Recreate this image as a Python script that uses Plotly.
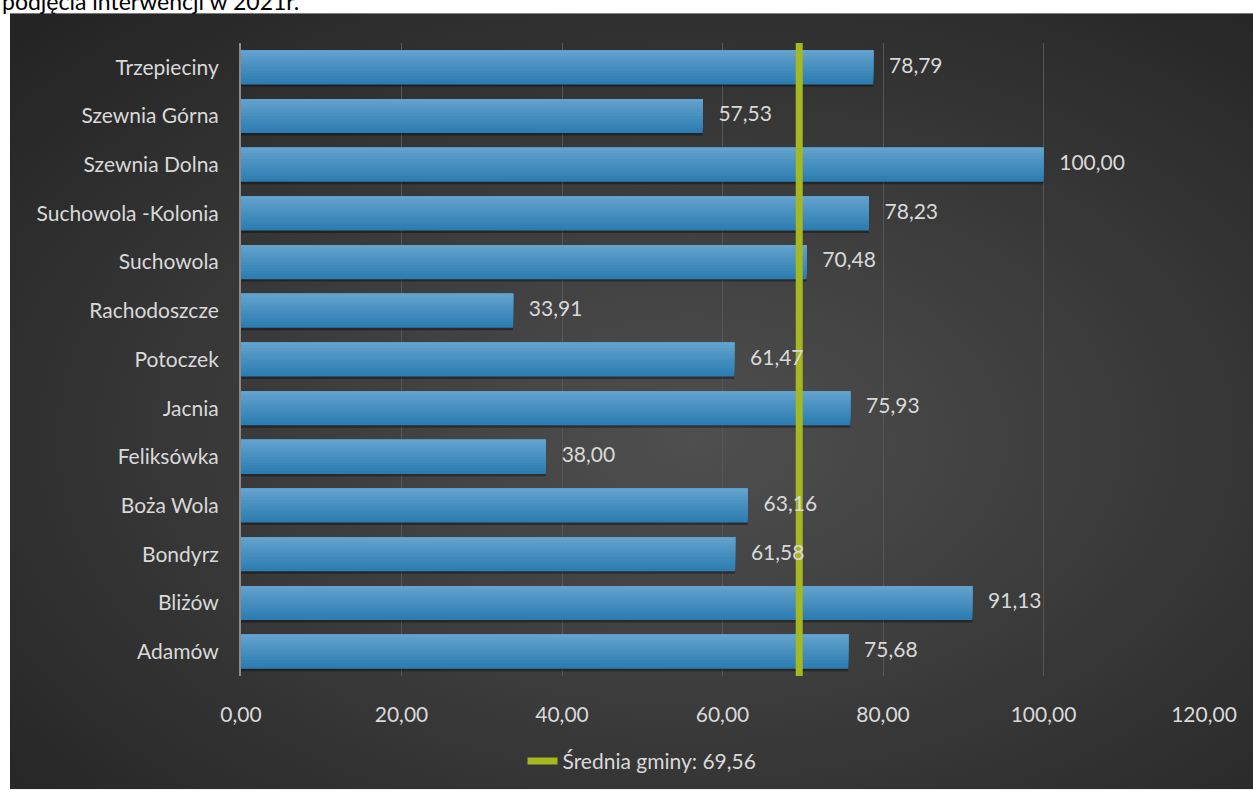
import plotly.graph_objects as go

categories = ["Adamów", "Bliżów", "Bondyrz", "Boża Wola", "Feliksówka", "Jacnia", "Potoczek",
              "Rachodoszcze", "Suchowola", "Suchowola -Kolonia", "Szewnia Dolna", "Szewnia Górna", "Trzepieciny"]
values = [75.68, 91.13, 61.58, 63.16, 38.00, 75.93, 61.47, 33.91, 70.48, 78.23, 100.00, 57.53, 78.79]
average_value = 69.56
average_label = "Średnia gminy: 69,56"
x_ticks = [0, 20, 40, 60, 80, 100, 120]
title_text = "podjęcia interwencji w 2021r."

FONT = "Lato, 'Open Sans', sans-serif"
TEXT_COL = "#d9d9d9"
FS = 21

fig = go.Figure()

# bar shadow
fig.add_trace(go.Bar(y=categories, x=values, orientation="h", width=0.7, offset=-0.40,
                     marker=dict(color="rgba(0,0,0,0.35)", line=dict(width=0)),
                     hoverinfo="skip", showlegend=False))

# gradient (top light -> bottom dark), nested strips sharing the top edge
n = 12
top = (98, 162, 205)
bot = (45, 125, 178)
w = 0.7 / n
for i in range(n):
    t = i / (n - 1)
    c = tuple(int(bot[k] + (top[k] - bot[k]) * t) for k in range(3))
    fig.add_trace(go.Bar(y=categories, x=values, orientation="h", width=0.7 - i * w,
                         offset=-0.35 + i * w,
                         marker=dict(color="rgb(%d,%d,%d)" % c, line=dict(width=0)),
                         hoverinfo="skip", showlegend=False))

# average line (overlay axis y2)
fig.add_trace(go.Scatter(x=[average_value, average_value], y=[0, 1], yaxis="y2",
                         mode="lines", line=dict(color="#A4B81F", width=7),
                         name=average_label, showlegend=True))

# value labels drawn above the line (overlay axis y3)
fig.add_trace(go.Scatter(y=categories, x=values, yaxis="y3", mode="text",
                         texttemplate="\u2002\u2009\u2009%{x:.2f}", textposition="middle right",
                         textfont=dict(color=TEXT_COL, size=FS, family=FONT),
                         cliponaxis=False, showlegend=False, hoverinfo="skip"))

svg = ("data:image/svg+xml;utf8,"
       "<svg xmlns='http://www.w3.org/2000/svg' width='1243' height='781' viewBox='0 0 1243 781' preserveAspectRatio='none'>"
       "<defs><radialGradient id='g' cx='0.55' cy='0.55' r='0.75'>"
       "<stop offset='0' stop-color='%234f4f4f'/><stop offset='1' stop-color='%23242424'/>"
       "</radialGradient></defs><rect width='1243' height='781' fill='url(%23g)'/></svg>")

L, R, T, B = 241, 1204, 43, 680
PW, PH = R - L, B - T

def px(xp):
    return (xp - L) / PW

def py(yp):
    return (B - yp) / PH

fig.add_layout_image(dict(source=svg, xref="paper", yref="paper",
                          x=px(10), y=py(13), sizex=px(1253) - px(10), sizey=py(13) - py(794),
                          xanchor="left", yanchor="top", sizing="stretch", layer="below"))

fig.add_annotation(text=title_text, xref="paper", yref="paper", x=px(0), y=py(1),
                   xanchor="left", yanchor="middle", showarrow=False,
                   font=dict(color="#000000", size=23, family=FONT))

cat_axis = dict(type="category", categoryorder="array", categoryarray=categories,
                range=[-0.5, 12.5])

fig.update_layout(
    width=1253, height=794,
    margin=dict(l=L, r=1253 - R, t=T, b=794 - B),
    paper_bgcolor="white", plot_bgcolor="rgba(0,0,0,0)",
    barmode="overlay", separators=", ",
    font=dict(family=FONT, color=TEXT_COL, size=FS),
    xaxis=dict(range=[0, 120], tickvals=x_ticks, tickformat=".2f",
               showgrid=True, gridcolor="#575757", gridwidth=1, zeroline=False,
               showline=False, ticks="", ticklabelstandoff=24,
               tickfont=dict(color=TEXT_COL, size=FS, family=FONT), fixedrange=True),
    yaxis=dict(**cat_axis, showgrid=False, showline=True, linecolor="#8a8a8a", linewidth=2,
               ticks="", ticklabelstandoff=16,
               tickfont=dict(color=TEXT_COL, size=FS, family=FONT)),
    yaxis2=dict(overlaying="y", range=[0, 1], visible=False, fixedrange=True),
    yaxis3=dict(**cat_axis, overlaying="y", visible=False),
    legend=dict(orientation="h", x=px(642), xanchor="center", y=py(766), yanchor="middle",
                font=dict(color=TEXT_COL, size=FS, family=FONT), bgcolor="rgba(0,0,0,0)"),
    showlegend=True,
)

fig.write_html("out.html", config={"displayModeBar": False},
               post_script="document.body.style.margin='0';")
